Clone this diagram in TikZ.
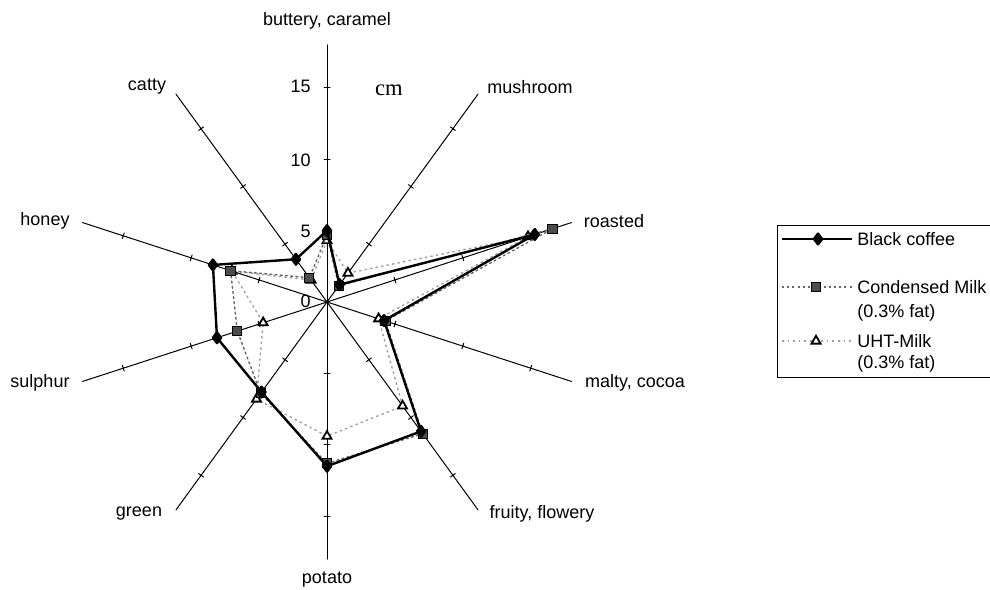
\documentclass[tikz,border=0pt]{standalone}
\usepackage{fontspec}
\setmainfont{Liberation Sans}
\newfontfamily\unitfont{Liberation Serif}
\usetikzlibrary{plotmarks}

\begin{document}
\begin{tikzpicture}
% Radar chart of coffee aroma attributes
\def\pxsz{0.5pt}
\def\radsz{7.14pt}
\providecommand{\aromaAxisWidth}{0.5pt}
\providecommand{\aromaCondColor}{black!60}
\providecommand{\aromaUhtColor}{black!38}
\tikzset{
  axislabel/.style={font=\fontsize{9}{10}\selectfont, inner sep=0pt},
  legendtext/.style={axislabel, anchor=west},
  coffeeline/.style={line width=1.2pt, line join=round, mark=diamond*, mark size=2.7pt, mark options={solid, fill=black}},
  condline/.style={draw=\aromaCondColor, line width=0.7pt, dash pattern=on 1pt off 1.6pt, mark=square*, mark size=2.3pt, mark options={solid, draw=black, fill=black!70, line width=0.5pt}},
  uhtline/.style={draw=\aromaUhtColor, line width=0.7pt, dash pattern=on 0.8pt off 2pt, mark=triangle*, mark size=2.6pt, mark options={solid, draw=black, fill=white, line width=0.9pt}}
}
\begin{scope}[x=\pxsz, y=-\pxsz]
  \useasboundingbox (0,0) rectangle (990,589);
  % Axis labels
  \node[axislabel] (lbl-buttery) at (327,21) {buttery, caramel};
  \node[axislabel] (lbl-mushroom) at (530,87) {mushroom};
  \node[axislabel] (lbl-roasted) at (614,221) {roasted};
  \node[axislabel] (lbl-malty) at (635,383) {malty, cocoa};
  \node[axislabel] (lbl-fruity) at (542,514) {fruity, flowery};
  \node[axislabel] (lbl-potato) at (327,580) {potato};
  \node[axislabel] (lbl-green) at (139,514) {green};
  \node[axislabel] (lbl-sulphur) at (40,383) {sulphur};
  \node[axislabel] (lbl-honey) at (45,221) {honey};
  \node[axislabel] (lbl-catty) at (147,87) {catty};
  % Scale labels
  \node[axislabel, anchor=east] (num-15) at (311,86) {15};
  \node[axislabel, anchor=east] (num-10) at (311,160) {10};
  \node[axislabel, anchor=east] (num-5) at (311,231) {5};
  \node[axislabel, anchor=east] (num-0) at (311,301) {0};
  \node[font=\unitfont\fontsize{11.3}{12}\selectfont, inner sep=0pt] (unit-cm) at (389,90) {cm};
  % Legend (right side runs off the page)
  \draw[line width=0.5pt] (990,225) -- (777,225) -- (777,377) -- (990,377);
  \draw[coffeeline, mark indices={2}] plot coordinates {(782,239) (818,239) (852,239)};
  \draw[condline, mark indices={2}] plot coordinates {(782,287) (816,287) (852,287)};
  \draw[uhtline, mark indices={2}] plot coordinates {(782,341) (816,341) (852,341)};
  \node[legendtext] (leg-coffee) at (857,239) {Black coffee};
  \node[legendtext] (leg-cond) at (857,287) {Condensed Milk};
  \node[legendtext] (leg-cond-fat) at (857,313) {(0.3\% fat)};
  \node[legendtext] (leg-uht) at (857,341) {UHT-Milk};
  \node[legendtext] (leg-uht-fat) at (857,364) {(0.3\% fat)};
\end{scope}
\begin{scope}[shift={(163.5pt,-151pt)}, x=\radsz, y=\radsz, line cap=round]
  % Axes with ticks at 5, 10, 15
  \begin{scope}[line width=\aromaAxisWidth]
    \draw[rotate=90] (0,0) -- (18,0) (5,-0.21) -- (5,0.21) (10,-0.21) -- (10,0.21) (15,-0.21) -- (15,0.21);
    \draw[rotate=54] (0,0) -- (18,0) (5,-0.21) -- (5,0.21) (10,-0.21) -- (10,0.21) (15,-0.21) -- (15,0.21);
    \draw[rotate=18] (0,0) -- (18,0) (5,-0.21) -- (5,0.21) (10,-0.21) -- (10,0.21) (15,-0.21) -- (15,0.21);
    \draw[rotate=-18] (0,0) -- (18,0) (5,-0.21) -- (5,0.21) (10,-0.21) -- (10,0.21) (15,-0.21) -- (15,0.21);
    \draw[rotate=-54] (0,0) -- (18,0) (5,-0.21) -- (5,0.21) (10,-0.21) -- (10,0.21) (15,-0.21) -- (15,0.21);
    \draw[rotate=-90] (0,0) -- (18,0) (5,-0.21) -- (5,0.21) (10,-0.21) -- (10,0.21) (15,-0.21) -- (15,0.21);
    \draw[rotate=-126] (0,0) -- (18,0) (5,-0.21) -- (5,0.21) (10,-0.21) -- (10,0.21) (15,-0.21) -- (15,0.21);
    \draw[rotate=-162] (0,0) -- (18,0) (5,-0.21) -- (5,0.21) (10,-0.21) -- (10,0.21) (15,-0.21) -- (15,0.21);
    \draw[rotate=162] (0,0) -- (18,0) (5,-0.21) -- (5,0.21) (10,-0.21) -- (10,0.21) (15,-0.21) -- (15,0.21);
    \draw[rotate=126] (0,0) -- (18,0) (5,-0.21) -- (5,0.21) (10,-0.21) -- (10,0.21) (15,-0.21) -- (15,0.21);
  \end{scope}
  % UHT-Milk
  \draw[uhtline] plot coordinates {(90:4.3) (54:2.5) (18:14.8) (-18:3.8) (-54:9.0) (-90:9.4) (-126:8.4) (-162:4.7) (162:7.0) (126:1.9)} -- cycle;
  % Condensed Milk
  \draw[condline] plot coordinates {(90:4.7) (54:1.4) (18:16.6) (-18:4.3) (-54:11.4) (-90:11.3) (-126:7.9) (-162:6.6) (162:7.1) (126:2.1)} -- cycle;
  % Black coffee
  \draw[coffeeline] plot coordinates {(90:5.0) (54:1.5) (18:15.3) (-18:4.2) (-54:11.2) (-90:11.5) (-126:7.8) (-162:8.1) (162:8.4) (126:3.7)} -- cycle;
\end{scope}
\end{tikzpicture}
\end{document}
